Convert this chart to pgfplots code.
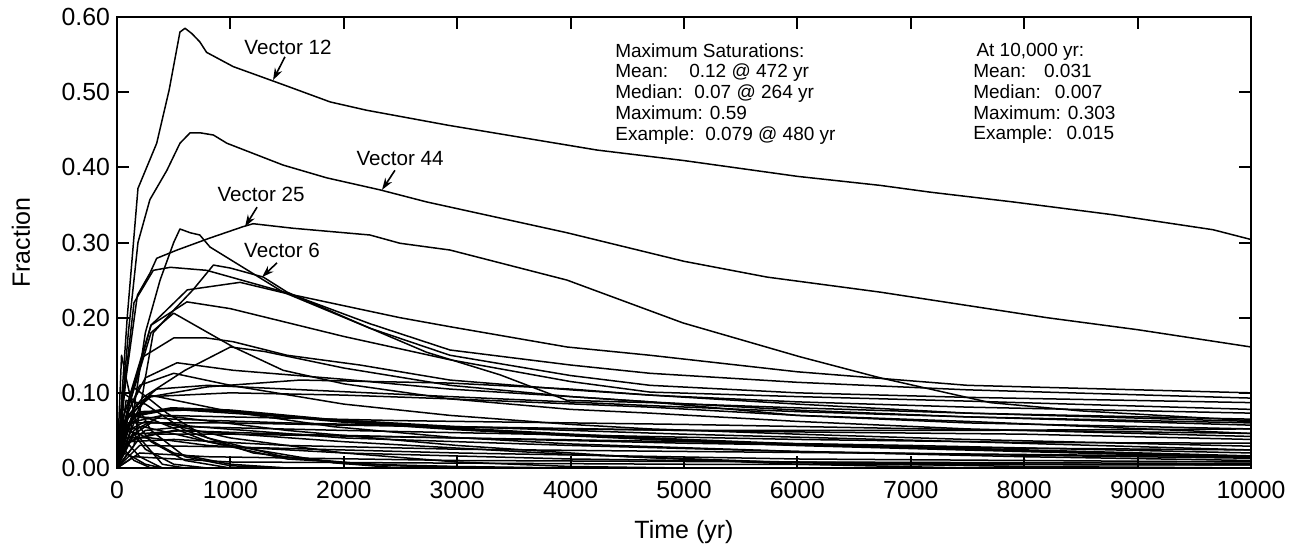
\documentclass[border=0pt]{standalone}
\usepackage{fontspec}
\setmainfont{Liberation Sans}
\usepackage{pgfplots}
\pgfplotsset{compat=1.18}
\usetikzlibrary{arrows.meta}
\pgfplotsset{vl/.style={black, line width=0.75pt, line join=round, no markers}}
\begin{document}
\begin{tikzpicture}
\begin{axis}[
  name=ax, at={(0,0)}, anchor=south west,
  scale only axis, width=567pt, height=225.5pt,
  xmin=0, xmax=10000, ymin=0, ymax=0.6,
  scaled x ticks=false, scaled y ticks=false,
  xtick={0,1000,2000,3000,4000,5000,6000,7000,8000,9000,10000},
  xticklabels={0,1000,2000,3000,4000,5000,6000,7000,8000,9000,10000},
  ytick={0,0.1,0.2,0.3,0.4,0.5,0.6},
  yticklabels={0.00,0.10,0.20,0.30,0.40,0.50,0.60},
  tick align=inside, major tick length=6pt,
  tick style={black, line width=1pt},
  axis line style={line width=1.3pt},
  tick label style={font=\fontsize{12.4}{14}\selectfont},
  xticklabel style={yshift=-3pt},
  xlabel={Time (yr)}, ylabel={Fraction},
  label style={font=\fontsize{12.5}{14}\selectfont},
  x label style={at={(axis description cs:0.5,-0.1419)}, anchor=center},
  y label style={at={(axis description cs:-0.0847,0.5)}, anchor=center},
]
% Vector 12
\addplot[vl] coordinates {(0,0) (90,0.2) (185,0.372) (350,0.432) (460,0.503) (555,0.580) (600,0.585) (660,0.578) (730,0.567) (790,0.553) (1025,0.534) (1465,0.510) (1880,0.487) (2200,0.476) (2920,0.456) (4233,0.423) (5000,0.409) (6000,0.388) (6730,0.376) (7170,0.367) (7900,0.354) (8780,0.337) (9665,0.317) (10000,0.304)};
% Vector 44
\addplot[vl] coordinates {(0,0) (100,0.18) (185,0.30) (290,0.357) (440,0.396) (555,0.432) (645,0.446) (730,0.446) (850,0.443) (970,0.432) (1465,0.403) (1850,0.386) (2320,0.370) (2730,0.354) (3968,0.313) (5000,0.275) (5732,0.254) (6729,0.234) (8200,0.200) (9000,0.184) (10000,0.161)};
% Vector 25
\addplot[vl] coordinates {(0,0) (80,0.12) (180,0.23) (290,0.259) (350,0.279) (530,0.290) (820,0.306) (1110,0.321) (1200,0.325) (1550,0.319) (2230,0.310) (2495,0.299) (2936,0.290) (3968,0.250) (4991,0.193) (6022,0.148) (6729,0.120) (7700,0.087) (8500,0.076) (10000,0.063)};
% A
\addplot[vl] coordinates {(0,0) (120,0.05) (250,0.18) (380,0.25) (500,0.30) (555,0.318) (645,0.313) (730,0.310) (820,0.294) (1465,0.234) (2230,0.186) (2936,0.150) (4000,0.123) (4700,0.110) (6000,0.100) (7500,0.094) (10000,0.087)};
% Vector 6
\addplot[vl] coordinates {(0,0) (150,0.03) (250,0.12) (320,0.18) (500,0.21) (670,0.237) (850,0.270) (1000,0.266) (1290,0.254) (1500,0.234) (2200,0.188) (2730,0.154) (3377,0.124) (3968,0.090) (4700,0.087) (6000,0.080) (7500,0.073) (10000,0.065)};
% B
\addplot[vl] coordinates {(0,0) (60,0.10) (150,0.22) (320,0.263) (470,0.267) (790,0.263) (1500,0.233) (2230,0.192) (2936,0.157) (4000,0.137) (4700,0.126) (6000,0.114) (7500,0.104) (10000,0.093)};
% D
\addplot[vl] coordinates {(0,0) (100,0.08) (300,0.19) (620,0.237) (1085,0.247) (1500,0.232) (2495,0.200) (2936,0.188) (3968,0.161) (4700,0.150) (6000,0.128) (7500,0.110) (10000,0.100)};
% E
\addplot[vl] coordinates {(0,0) (120,0.10) (300,0.19) (617,0.221) (1000,0.212) (2000,0.175) (2936,0.144) (4000,0.115) (4700,0.101) (6000,0.095) (7500,0.089) (10000,0.078)};
% F
\addplot[vl] coordinates {(0,0) (100,0.08) (300,0.18) (500,0.206) (1025,0.161) (1465,0.130) (2000,0.112) (2936,0.092) (4000,0.078) (4700,0.073) (6000,0.062) (7500,0.052) (10000,0.042)};
% G
\addplot[vl] coordinates {(0,0) (60,0.07) (230,0.148) (500,0.173) (790,0.173) (1025,0.168) (1500,0.150) (2143,0.137) (2936,0.117) (4000,0.104) (4700,0.097) (6000,0.088) (7500,0.081) (10000,0.073)};
% H
\addplot[vl] coordinates {(0,0) (100,0.07) (230,0.094) (600,0.130) (1000,0.161) (1300,0.155) (2000,0.133) (2936,0.110) (4000,0.095) (4700,0.088) (6000,0.077) (7500,0.068) (10000,0.057)};
% I
\addplot[vl] coordinates {(0,0) (80,0.07) (250,0.12) (530,0.140) (1025,0.130) (2000,0.118) (2936,0.105) (4000,0.095) (4700,0.088) (6000,0.070) (7500,0.060) (10000,0.052)};
% C
\addplot[vl] coordinates {(0,0) (80,0.05) (260,0.094) (800,0.108) (1614,0.117) (2936,0.113) (4000,0.105) (4700,0.097) (6000,0.085) (7500,0.073) (10000,0.062)};
% J
\addplot[vl] coordinates {(0,0) (60,0.06) (200,0.110) (500,0.126) (1000,0.110) (2000,0.085) (2936,0.070) (4000,0.058) (4700,0.052) (6000,0.045) (7500,0.038) (10000,0.029)};
% W
\addplot[vl] coordinates {(0,0) (100,0.07) (300,0.095) (1000,0.100) (2000,0.097) (2936,0.092) (4700,0.081) (6000,0.070) (7500,0.062) (10000,0.046)};
% Y
\addplot[vl] coordinates {(0,0) (150,0.08) (350,0.105) (800,0.110) (1500,0.105) (2936,0.095) (4700,0.083) (6000,0.075) (7500,0.068) (10000,0.060)};
% Example (thick)
\addplot[vl, line width=1.6pt] coordinates {(0,0) (50,0.04) (150,0.07) (480,0.079) (1000,0.076) (2000,0.062) (3000,0.052) (4000,0.044) (5000,0.037) (6000,0.031) (7000,0.027) (8000,0.023) (9000,0.019) (10000,0.015)};
\addplot[vl] coordinates {(0,0) (60,0.05) (200,0.075) (600,0.077) (1500,0.068) (3000,0.055) (5000,0.045) (7500,0.035) (10000,0.024)};
\addplot[vl] coordinates {(0,0) (100,0.04) (300,0.06) (1000,0.060) (2000,0.057) (4000,0.052) (6000,0.048) (8000,0.045) (10000,0.038)};
\addplot[vl] coordinates {(0,0) (80,0.03) (250,0.05) (600,0.055) (2000,0.050) (4000,0.044) (6000,0.038) (8000,0.034) (10000,0.033)};
\addplot[vl] coordinates {(0,0) (100,0.035) (300,0.045) (1000,0.045) (3000,0.040) (5000,0.035) (7000,0.030) (10000,0.020)};
\addplot[vl] coordinates {(0,0) (60,0.05) (200,0.068) (500,0.065) (1500,0.060) (3000,0.055) (5000,0.050) (7500,0.050) (10000,0.052)};
\addplot[vl] coordinates {(0,0) (150,0.05) (400,0.070) (1000,0.068) (2500,0.063) (5000,0.058) (7500,0.051) (10000,0.046)};
\addplot[vl] coordinates {(0,0) (100,0.05) (250,0.062) (700,0.055) (2000,0.040) (4000,0.030) (6000,0.022) (8000,0.017) (10000,0.013)};
\addplot[vl] coordinates {(0,0) (200,0.04) (500,0.050) (1500,0.045) (3000,0.040) (5000,0.033) (7500,0.027) (10000,0.024)};
\addplot[vl] coordinates {(0,0) (80,0.04) (300,0.040) (800,0.030) (2000,0.020) (4000,0.012) (7000,0.006) (10000,0.004)};
\addplot[vl] coordinates {(0,0) (100,0.035) (500,0.038) (1500,0.030) (3000,0.025) (5000,0.022) (8000,0.018) (10000,0.015)};
\addplot[vl] coordinates {(0,0) (40,0.06) (140,0.108) (300,0.090) (440,0.073) (800,0.040) (1465,0.015) (2200,0.005) (3000,0.002) (4000,0)};
\addplot[vl] coordinates {(0,0) (60,0.06) (290,0.097) (1000,0.075) (1905,0.055) (2936,0.041) (4000,0.032) (6000,0.022) (8000,0.015) (10000,0.010)};
% early decaying curves
\addplot[vl] coordinates {(0,0) (50,0.10) (150,0.09) (300,0.05) (600,0.015) (1000,0.003) (1500,0)};
\addplot[vl] coordinates {(0,0) (40,0.08) (120,0.07) (300,0.035) (600,0.010) (1000,0)};
\addplot[vl] coordinates {(0,0) (30,0.06) (100,0.055) (250,0.025) (500,0.005) (800,0)};
\addplot[vl] coordinates {(0,0) (20,0.04) (80,0.035) (200,0.015) (400,0)};
\addplot[vl] coordinates {(0,0) (20,0.03) (60,0.025) (150,0.010) (300,0)};
\addplot[vl] coordinates {(0,0) (100,0.07) (300,0.065) (800,0.035) (1500,0.012) (2500,0.003) (3500,0)};
\addplot[vl] coordinates {(0,0) (80,0.09) (250,0.085) (600,0.050) (1200,0.020) (2000,0.006) (3000,0)};
\addplot[vl] coordinates {(0,0) (150,0.06) (400,0.060) (1000,0.040) (2000,0.020) (3000,0.008) (4000,0.002) (5000,0)};
\addplot[vl] coordinates {(0,0) (60,0.05) (200,0.045) (500,0.020) (1000,0.005) (1500,0)};
\addplot[vl] coordinates {(0,0) (30,0.02) (100,0.018) (250,0.005) (400,0)};
\addplot[vl] coordinates {(0,0) (40,0.15) (80,0.12) (200,0.04) (400,0.005) (600,0)};
\addplot[vl] coordinates {(0,0) (80,0.05) (230,0.055) (800,0.035) (1905,0.007) (2500,0)};
\addplot[vl] coordinates {(0,0) (200,0.02) (800,0.015) (3000,0.010) (6000,0.008) (10000,0.006)};
\addplot[vl] coordinates {(0,0) (150,0.015) (1000,0.008) (5000,0.005) (10000,0.004)};
\addplot[vl] coordinates {(0,0) (100,0.06) (400,0.070) (1500,0.050) (3000,0.030) (4500,0.015) (6000,0.005) (7500,0)};
\addplot[vl] coordinates {(0,0) (150,0.045) (600,0.050) (2000,0.035) (4000,0.018) (6000,0.007) (8000,0.002) (10000,0)};
\addplot[vl] coordinates {(0,0) (200,0.03) (1000,0.028) (3000,0.020) (6000,0.012) (10000,0.008)};
% annotations
\node[font=\fontsize{10.3}{12}\selectfont] at (axis cs:1508,0.560) {Vector 12};
\draw[line width=0.8pt, -{Stealth[length=6pt,width=4pt]}] (axis cs:1481,0.547) -- (axis cs:1376,0.516);
\node[font=\fontsize{10.3}{12}\selectfont] at (axis cs:2496,0.412) {Vector 44};
\draw[line width=0.8pt, -{Stealth[length=6pt,width=4pt]}] (axis cs:2451,0.396) -- (axis cs:2337,0.370);
\node[font=\fontsize{10.3}{12}\selectfont] at (axis cs:1270,0.3645) {Vector 25};
\draw[line width=0.8pt, -{Stealth[length=6pt,width=4pt]}] (axis cs:1235,0.347) -- (axis cs:1129,0.321);
\node[font=\fontsize{10.3}{12}\selectfont] at (axis cs:1455,0.289) {Vector 6};
\draw[line width=0.8pt, -{Stealth[length=6pt,width=4pt]}] (axis cs:1411,0.273) -- (axis cs:1279,0.254);
\node[anchor=north west, inner sep=0pt, align=left, font=\fontsize{9.5}{10.4}\selectfont] at (axis cs:4391,0.5654)
  {Maximum Saturations:\\
   \makebox[37pt][l]{Mean:}0.12 @ 472 yr\\
   \makebox[39.5pt][l]{Median:}0.07 @ 264 yr\\
   Maximum: 0.59\\
   \makebox[45pt][l]{Example:}0.079 @ 480 yr};
\node[anchor=north west, inner sep=0pt, align=left, font=\fontsize{9.5}{10.4}\selectfont] at (axis cs:7548,0.5654)
  {\,At 10,000 yr:\\
   Mean:\hspace{9pt}0.031\\
   Median:\hspace{7pt}0.007\\
   Maximum: 0.303\\
   Example:\hspace{7pt}0.015};
\end{axis}
\pgfresetboundingbox
\path (-58.5pt,-42pt) rectangle (594pt,234pt);
\end{tikzpicture}
\end{document}
